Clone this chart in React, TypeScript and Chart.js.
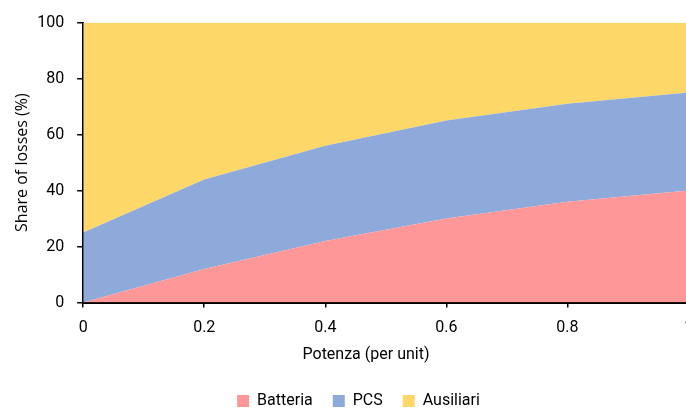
import React, { useEffect, useRef } from "react";
import { Chart, registerables } from "chart.js";

Chart.register(...registerables);

const power = [0, 0.2, 0.4, 0.6, 0.8, 1.0];
const batteria = [0, 12, 22, 30, 36, 40];
const pcs = [25, 32, 34, 35, 35, 35];
const ausiliari = [75, 56, 44, 35, 29, 25];

const FONT = "Roboto";
const TITLE_FONT = "Open Sans";

export default function App() {
  const ref = useRef<HTMLCanvasElement | null>(null);
  useEffect(() => {
    if (!ref.current) return;
    const mk = (arr: number[]) => arr.map((v, i) => ({ x: power[i], y: v }));
    const chart = new Chart(ref.current, {
      type: "line",
      data: {
        datasets: [
          { label: "Batteria", data: mk(batteria), backgroundColor: "#fe9798", borderWidth: 0, pointRadius: 0, fill: "origin", tension: 0 },
          { label: "PCS", data: mk(pcs), backgroundColor: "#8eaadb", borderWidth: 0, pointRadius: 0, fill: "-1", tension: 0 },
          { label: "Ausiliari", data: mk(ausiliari), backgroundColor: "#fdd768", borderWidth: 0, pointRadius: 0, fill: "-1", tension: 0 },
        ],
      },
      options: {
        animation: false,
        responsive: false,
        maintainAspectRatio: false,
        layout: { padding: { top: 22, right: 0, left: 13, bottom: 0 } },
        plugins: {
          tooltip: { enabled: false },
          legend: {
            position: "bottom",
            labels: { boxWidth: 12, boxHeight: 12, color: "#000", font: { family: FONT, size: 16 }, padding: 20 },
          },
        },
        scales: {
          x: {
            type: "linear",
            min: 0,
            max: 1,
            ticks: {
              stepSize: 0.2,
              color: "#000",
              font: { family: FONT, size: 16 },
              padding: 11,
              callback: (v: any) => String(Math.round(Number(v) * 10) / 10),
            },
            grid: { drawOnChartArea: false, drawTicks: true, tickLength: 5, color: "#000", lineWidth: 1.5 },
            border: { display: true, color: "#000", width: 2 },
            title: { display: true, text: "Potenza (per unit)" + "\u00a0".repeat(10), color: "#000", font: { family: FONT, size: 16 }, padding: { top: -3, bottom: 8 } },
          },
          y: {
            stacked: true,
            min: 0,
            max: 100,
            ticks: { stepSize: 20, color: "#000", font: { family: FONT, size: 16 }, padding: 13 },
            grid: { drawOnChartArea: false, drawTicks: true, tickLength: 6, color: "#000", lineWidth: 1.5 },
            border: { display: true, color: "#000", width: 2 },
            title: { display: true, text: "Share of losses (%)", color: "#000", font: { family: TITLE_FONT, size: 16 }, padding: { top: 0, bottom: -8 } },
          },
        },
      },
    });
    return () => chart.destroy();
  }, []);
  return (
    <div style={{ position: "fixed", left: 0, top: 0, width: 704, height: 419, background: "#fff" }}>
      <canvas ref={ref} width={704} height={419} />
    </div>
  );
}
